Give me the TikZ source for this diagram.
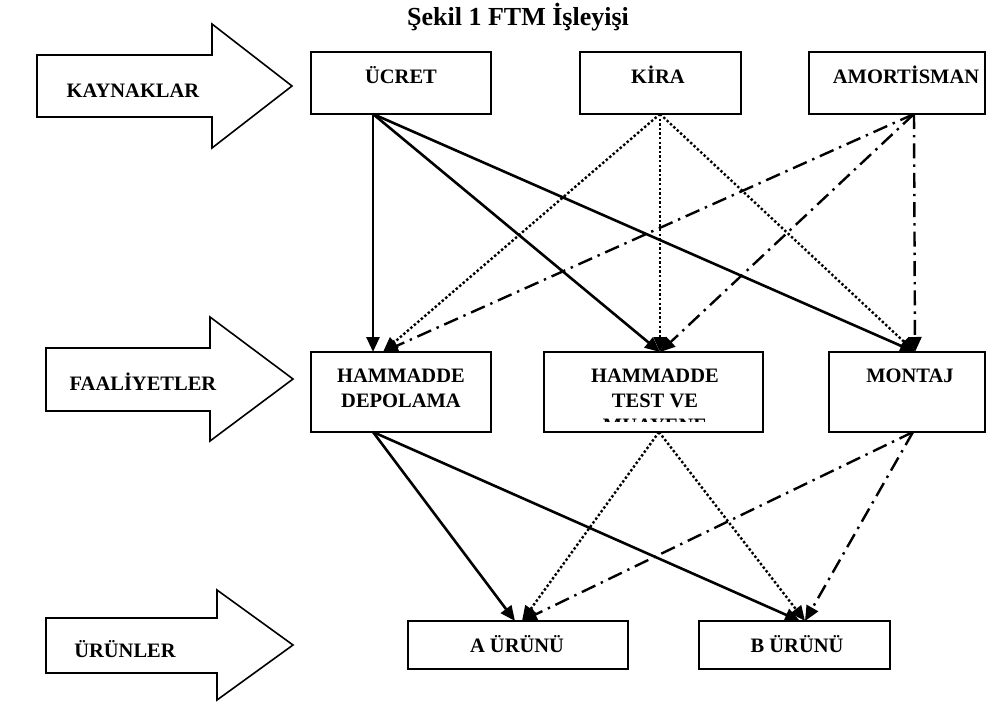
\documentclass[tikz,border=0pt]{standalone}
\usepackage{fontspec}
\setmainfont{Liberation Serif}
\usetikzlibrary{arrows.meta,calc}
\tikzset{
  box/.style={draw, line width=2pt, inner sep=0pt, outer sep=0pt, anchor=north west},
  lbl/.style={anchor=base, inner sep=0pt, font=\fontsize{20.5}{25}\selectfont\bfseries},
  ttl/.style={anchor=base, inner sep=0pt, font=\fontsize{26}{30}\selectfont\bfseries},
  blockarrow/.style={draw, line width=1.6pt, line join=miter},
  tip/.style={-{Triangle[length=15pt,width=13pt]}},
  solidc/.style={tip, line width=2.6pt},
  dotc/.style={tip, line width=2.4pt, dash pattern=on 2.4pt off 2.2pt},
  dashdotc/.style={tip, line width=2.4pt, dash pattern=on 15pt off 6pt on 2.4pt off 6pt},
}
\begin{document}
\begin{tikzpicture}[x=1pt,y=-1pt]
\useasboundingbox (0,0) rectangle (995,704);

% title
\node[ttl] (title) at (518,25) {Şekil 1 FTM İşleyişi};

% block arrows
\draw[blockarrow] (37,55) -- (212,55) -- (212,24) -- (292,86) -- (212,148) -- (212,117) -- (37,117) -- cycle;
\node[lbl] (kaynak) at (133,97) {KAYNAKLAR};
\draw[blockarrow] (46,348) -- (210,348) -- (210,317) -- (293,379) -- (210,441) -- (210,411) -- (46,411) -- cycle;
\node[lbl] (faal) at (143,390) {FAALİYETLER};
\draw[blockarrow] (46,618) -- (217,618) -- (217,590) -- (293,645) -- (217,700) -- (217,673) -- (46,673) -- cycle;
\node[lbl] (urun) at (125,657) {ÜRÜNLER};

% top boxes
\node[box, minimum width=180pt, minimum height=62pt] (ucret) at (311,52) {};
\node[lbl] (ucrett) at (401,83) {ÜCRET};
\node[box, minimum width=161pt, minimum height=62pt] (kira) at (580,52) {};
\node[lbl] (kirat) at (658,83) {KİRA};
\node[box, minimum width=176pt, minimum height=62pt] (amor) at (809,52) {};
\node[lbl] (amort) at (906,83) {AMORTİSMAN};

% middle boxes
\node[box, minimum width=180pt, minimum height=80pt] (dep) at (311,352) {};
\node[lbl] (dept1) at (401,382) {HAMMADDE};
\node[lbl] (dept2) at (401,407) {DEPOLAMA};
\node[box, minimum width=219pt, minimum height=80pt] (test) at (544,352) {};
\node[lbl] (testt1) at (655,382) {HAMMADDE};
\node[lbl] (testt2) at (655,407) {TEST VE};
\begin{scope}
  \clip (544,352) rectangle (763,421);
  \node[lbl] (testt3) at (655,432) {MUAYENE};
\end{scope}
\node[box, minimum width=156pt, minimum height=80pt] (mont) at (829,352) {};
\node[lbl] (montt) at (910,382) {MONTAJ};

% bottom boxes
\node[box, minimum width=220pt, minimum height=48pt] (aprod) at (408,621) {};
\node[lbl] (aprodt) at (517,652) {A ÜRÜNÜ};
\node[box, minimum width=191pt, minimum height=48pt] (bprod) at (699,621) {};
\node[lbl] (bprodt) at (797,652) {B ÜRÜNÜ};

% ports
\coordinate (ucret-out) at ($(ucret.south west)+(62,0)$);
\coordinate (kira-out) at ($(kira.south west)+(80,0)$);
\coordinate (amor-out) at ($(amor.south west)+(105,0)$);
\coordinate (dep-in-a) at ($(dep.north west)+(62,0)$);
\coordinate (dep-in-b) at ($(dep.north west)+(72,0)$);
\coordinate (test-in) at ($(test.north west)+(116,0)$);
\coordinate (mont-in) at ($(mont.north west)+(86,0)$);
\coordinate (dep-out) at ($(dep.south west)+(62,0)$);
\coordinate (test-out) at ($(test.south west)+(115,0)$);
\coordinate (mont-out) at ($(mont.south west)+(84,0)$);
\coordinate (a-in-a) at ($(aprod.north west)+(107,0)$);
\coordinate (a-in-b) at ($(aprod.north west)+(114,0)$);
\coordinate (b-in-a) at ($(bprod.north west)+(101,0)$);
\coordinate (b-in-b) at ($(bprod.north west)+(106,0)$);

% resources -> activities
\draw[solidc] (ucret-out) -- (dep-in-a);
\draw[solidc] (ucret-out) -- (test-in);
\draw[solidc] (ucret-out) -- (mont-in);
\draw[dotc] (kira-out) -- (dep-in-b);
\draw[dotc] (kira-out) -- (test-in);
\draw[dotc] (kira-out) -- (mont-in);
\draw[dashdotc] (amor-out) -- (dep-in-b);
\draw[dashdotc] (amor-out) -- (test-in);
\draw[dashdotc] (amor-out) -- (mont-in);

% activities -> products
\draw[solidc] (dep-out) -- (a-in-a);
\draw[solidc] (dep-out) -- (b-in-a);
\draw[dotc] (test-out) -- (a-in-b);
\draw[dotc] (test-out) -- (b-in-b);
\draw[dashdotc] (mont-out) -- (a-in-b);
\draw[dashdotc] (mont-out) -- (b-in-b);
\end{tikzpicture}
\end{document}
